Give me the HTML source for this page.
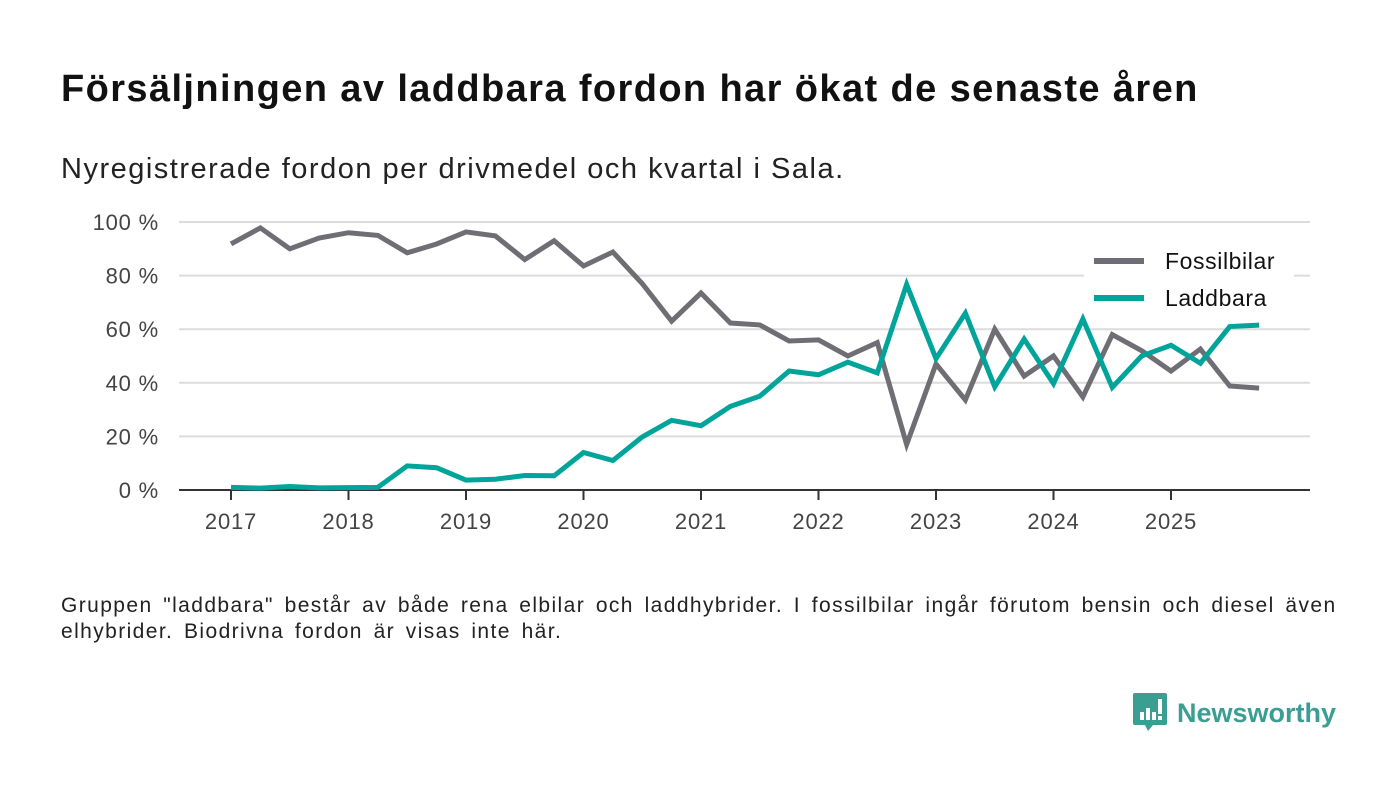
<!DOCTYPE html>
<html><head><meta charset="utf-8"><style>
body{margin:0;background:#fff;font-family:"Liberation Sans","DejaVu Sans",sans-serif;}
#wrap{position:relative;width:1400px;height:793px;overflow:hidden;}
h1{position:absolute;left:61px;top:68px;margin:0;font-size:38px;font-weight:bold;color:#111;letter-spacing:1.4px;white-space:nowrap;}
.sub{position:absolute;left:61px;top:153px;font-size:29px;color:#222;letter-spacing:1.5px;white-space:nowrap;}
.note{position:absolute;left:61px;top:593px;font-size:21px;color:#222;line-height:26px;width:1335px;letter-spacing:1.4px;word-spacing:3.5px;white-space:nowrap;}
.logo{position:absolute;left:1133px;top:693px;display:flex;align-items:center;}
.logo span{font-size:27px;font-weight:bold;color:#3a9e93;margin-left:10px;}
</style></head><body>
<div id="wrap">
<h1>Försäljningen av laddbara fordon har ökat de senaste åren</h1>
<div class="sub">Nyregistrerade fordon per drivmedel och kvartal i Sala.</div>
<svg id="chart" width="1400" height="793" style="position:absolute;left:0;top:0"></svg>
<div class="note">Gruppen "laddbara" består av både rena elbilar och laddhybrider. I fossilbilar ingår förutom bensin och diesel även<br>elhybrider. Biodrivna fordon är visas inte här.</div>
<div class="logo">
<svg width="34" height="40" viewBox="0 0 34 40"><path d="M2 0h30a2 2 0 0 1 2 2v28a2 2 0 0 1-2 2H20l-5 6-3-6H2a2 2 0 0 1-2-2V2a2 2 0 0 1 2-2z" fill="#3a9e93"/><rect x="7" y="19" width="4" height="8" fill="#fff"/><rect x="13" y="15" width="4" height="12" fill="#fff"/><rect x="19" y="19" width="4" height="8" fill="#fff"/><rect x="25" y="6" width="4" height="15" fill="#fff"/><rect x="25" y="23" width="4" height="4" fill="#fff"/></svg>
<span>Newsworthy</span></div>
</div>
<script>
const quarters = ["2017Q1","2017Q2","2017Q3","2017Q4","2018Q1","2018Q2","2018Q3","2018Q4","2019Q1","2019Q2","2019Q3","2019Q4","2020Q1","2020Q2","2020Q3","2020Q4","2021Q1","2021Q2","2021Q3","2021Q4","2022Q1","2022Q2","2022Q3","2022Q4","2023Q1","2023Q2","2023Q3","2023Q4","2024Q1","2024Q2","2024Q3","2024Q4","2025Q1","2025Q2","2025Q3","2025Q4"];
const fossil = [91.8,97.8,90,94,96,95,88.5,91.8,96.3,94.8,86,93,83.6,88.8,77,63,73.5,62.3,61.6,55.6,56,50,55,17,47,33.6,60,42.5,50,34.7,58,52,44.4,52.6,38.8,38];
const laddbara = [1,0.7,1.3,0.8,0.9,1,9,8.3,3.7,4,5.4,5.3,14,11,19.8,26,24,31.2,35,44.4,43,47.7,43.7,76.7,49,66,38.5,56.3,39.7,63.8,38.3,50,54,47.3,61,61.5];
const yTicks = [0,20,40,60,80,100];
const yTickLabels = ["0 %","20 %","40 %","60 %","80 %","100 %"];
const xYears = [2017,2018,2019,2020,2021,2022,2023,2024,2025];
const seriesNames = ["Fossilbilar","Laddbara"];

const NS="http://www.w3.org/2000/svg";
const svg=document.getElementById('chart');
const X0=231,YEARW=117.5,Y0=490,YH=268,XL=179,XR=1310;
const xq=i=>X0+i*YEARW/4;
const xy=yr=>X0+(yr-2017)*YEARW;
const y=v=>Y0-v/100*YH;
function mk(t,a){const e=document.createElementNS(NS,t);for(const k in a)e.setAttribute(k,a[k]);svg.appendChild(e);return e;}
yTicks.forEach((v,i)=>{
 if(v>0){const l=mk('line',{x1:XL,x2:XR,y1:y(v),y2:y(v),stroke:'#dcdcdc','stroke-width':2});
 
 }
 const t=mk('text',{x:159,y:y(v)+8,'text-anchor':'end','font-size':22,fill:'#444','letter-spacing':'0.8','font-family':'Liberation Sans, sans-serif'});
 t.textContent=yTickLabels[i];
 
 
});
const lbg=mk('rect',{x:1084,y:243,width:210,height:64,fill:'#fff'});


const ax=mk('line',{x1:XL,x2:XR,y1:Y0,y2:Y0,stroke:'#333','stroke-width':2});


xYears.forEach(yr=>{
 const tk=mk('line',{x1:xy(yr),x2:xy(yr),y1:Y0,y2:Y0+10,stroke:'#333','stroke-width':2});
 
 
 const t=mk('text',{x:xy(yr),y:529,'text-anchor':'middle','font-size':22,fill:'#444','letter-spacing':'0.8','font-family':'Liberation Sans, sans-serif'});
 t.textContent=yr;
 
 
});
function line(data,color,name){
 const p=mk('polyline',{points:data.map((v,i)=>xq(i)+','+y(v)).join(' '),fill:'none',stroke:color,'stroke-width':5,'stroke-linejoin':'miter'});
 
 
}
line(fossil,'#6f6e75','fossilbilar-line');
line(laddbara,'#00a49a','laddbara-line');
[['#6f6e75',261],['#00a49a',298]].forEach((c,i)=>{
 const l=mk('line',{x1:1094,x2:1144,y1:c[1],y2:c[1],stroke:c[0],'stroke-width':6});
 
 
 const t=mk('text',{x:1165,y:c[1]+8,'font-size':23,fill:'#111','letter-spacing':'0.6','font-family':'Liberation Sans, sans-serif'});
 t.textContent=seriesNames[i];
 
 
});
</script>
</body></html>
